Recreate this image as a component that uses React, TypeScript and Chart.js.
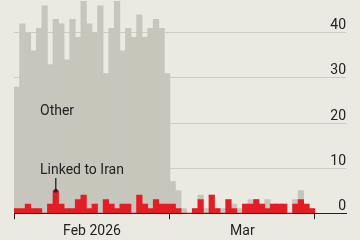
import React, { useEffect, useRef } from "react";
import { Chart, registerables } from "chart.js";

Chart.register(...registerables);

// Daily counts, 1 Feb 2026 – 26 Mar 2026
const linkedToIran = [
  1, 1, 2, 1, 1, 0, 2, 5, 2, 1, 1, 3, 4, 1,
  2, 0, 3, 2, 1, 2, 2, 0, 4, 2, 1, 3, 2, 2,
  2, 1, 0, 0, 1, 3, 0, 4, 1, 0, 3, 1, 0, 2, 2, 3,
  2, 1, 2, 2, 2, 0, 2, 3, 2, 1,
];
const other = [
  27, 41, 38, 35, 40, 46, 31, 38, 40, 33, 42, 36, 43, 41,
  38, 46, 28, 39, 46, 34, 39, 39, 40, 37, 40, 40, 39, 29,
  5, 4, 1, 0, 0, 1, 1, 0, 0, 1, 0, 1, 1, 0, 1, 0,
  0, 2, 0, 0, 0, 0, 1, 2, 0, 0,
];
const yTicks = [0, 10, 20, 30, 40];
// month boundaries (day index) and month label positions (day index)
const monthEdges = [0, 28, 54];
const monthLabelPos = [14, 41];
const monthLabels = ["Feb 2026", "Mar"];

const BG = "#ebeae2";
const GREY = "#c6c6bc";
const RED = "#e41c23";
const INK = "#222222";
const FONT = "Roboto";

export default function App() {
  const ref = useRef<HTMLCanvasElement>(null);

  useEffect(() => {
    const canvas = ref.current!;
    const bgPlugin = {
      id: "bg",
      beforeDraw(chart: any) {
        const c = chart.ctx;
        c.save();
        c.fillStyle = BG;
        c.fillRect(0, 0, chart.width, chart.height);
        c.restore();
      },
    };
    const annot = {
      id: "annot",
      afterDatasetsDraw(chart: any) {
        const c = chart.ctx;
        const xs = chart.scales.x;
        const ys = chart.scales.y;
        c.save();
        c.fillStyle = INK;
        c.font = `14px ${FONT}`;
        c.textAlign = "left";
        c.textBaseline = "alphabetic";
        c.fillText("Other", 40, 115);
        c.fillText("Linked to Iran", 40, 174);
        const mx = xs.getPixelForValue(7.5);
        const my = ys.getPixelForValue(linkedToIran[7]);
        c.strokeStyle = INK;
        c.lineWidth = 1.3;
        c.beginPath();
        c.moveTo(mx, 178);
        c.lineTo(mx, my);
        c.stroke();
        c.beginPath();
        c.arc(mx, my, 1.9, 0, Math.PI * 2);
        c.fill();
        c.restore();
      },
    };
    const chart = new Chart(canvas, {
      type: "bar",
      data: {
        datasets: [
          {
            label: "Linked to Iran",
            data: linkedToIran.map((v, i) => ({ x: i + 0.5, y: v })),
            backgroundColor: RED,
            borderWidth: 0,
            barPercentage: 1,
            categoryPercentage: 1,
          },
          {
            label: "Other",
            data: other.map((v, i) => ({ x: i + 0.5, y: v })),
            backgroundColor: GREY,
            borderWidth: 0,
            barPercentage: 1,
            categoryPercentage: 1,
          },
        ],
      },
      options: {
        animation: false,
        responsive: false,
        maintainAspectRatio: false,
        layout: { padding: { left: 14, right: 14, top: 0, bottom: -2.8 } },
        plugins: { legend: { display: false }, tooltip: { enabled: false } },
        scales: {
          x: {
            type: "linear",
            stacked: true,
            offset: false,
            min: 0,
            max: 59.6,
            grid: {
              offset: false,
              display: true,
              drawOnChartArea: false,
              drawTicks: true,
              tickLength: 6,
              tickWidth: 1,
              tickColor: (ctx: any) =>
                ctx.tick && monthEdges.includes(ctx.tick.value) ? INK : "rgba(0,0,0,0)",
            },
            border: { display: true, color: INK, width: 1 },
            afterBuildTicks: (s: any) => {
              s.ticks = [...monthEdges, ...monthLabelPos]
                .sort((a, b) => a - b)
                .map((v) => ({ value: v }));
            },
            ticks: {
              autoSkip: false,
              maxRotation: 0,
              padding: 3.4,
              color: INK,
              font: { family: FONT, size: 14 },
              callback: (v: any) => {
                const k = monthLabelPos.indexOf(Number(v));
                return k >= 0 ? monthLabels[k] : "";
              },
            },
          },
          y: {
            type: "linear",
            position: "right",
            stacked: true,
            min: 0,
            max: 47.3,
            afterBuildTicks: (s: any) => {
              s.ticks = yTicks.map((v) => ({ value: v }));
            },
            grid: { color: "#cdccc2", lineWidth: 1, drawTicks: false },
            border: { display: false },
            ticks: {
              mirror: true,
              align: "start",
              padding: 0,
              labelOffset: -14,
              color: INK,
              font: { family: FONT, size: 14 },
            },
          },
        },
      },
      plugins: [bgPlugin, annot],
    } as any);
    return () => chart.destroy();
  }, []);

  return (
    <div style={{ position: "absolute", left: 0, top: 0, width: 360, height: 240, background: BG }}>
      <canvas ref={ref} width={360} height={240} />
    </div>
  );
}
